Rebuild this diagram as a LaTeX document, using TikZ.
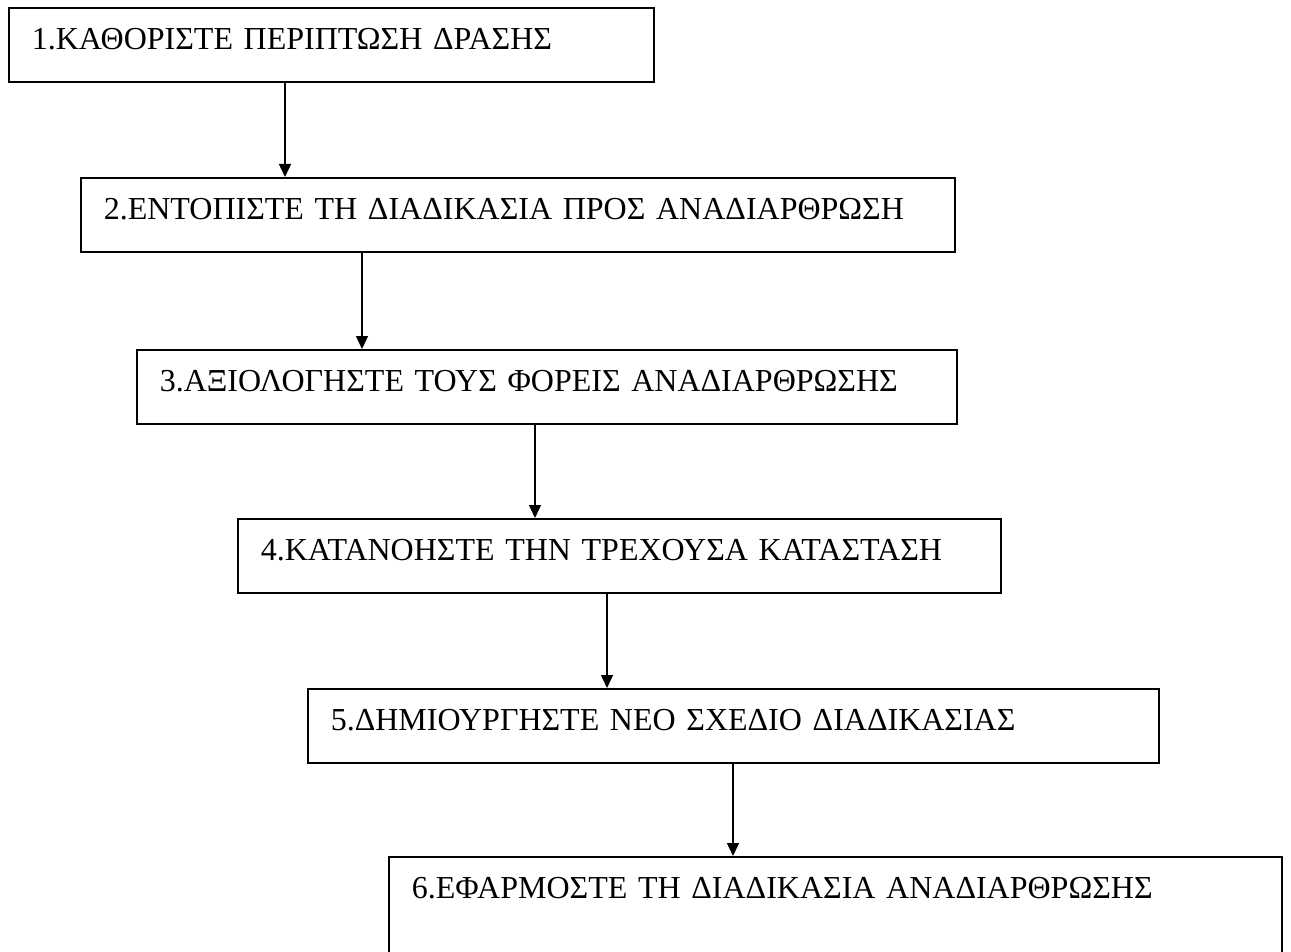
\documentclass[tikz,border=0pt]{standalone}
\usepackage{fontspec}
\setmainfont{Liberation Serif}
\usetikzlibrary{arrows.meta}
\begin{document}
\begin{tikzpicture}[x=1pt,y=-1pt,
  stepbox/.style={draw=black, line width=1.6pt, rectangle, anchor=north west,
    align=left, inner xsep=23pt, inner ysep=21pt, text height=21pt, text depth=11pt,
    font=\fontsize{32}{38}\selectfont},
  arr/.style={draw=black, line width=1.4pt, -{Triangle[length=13pt,width=12pt]}}]
\useasboundingbox (0,0) rectangle (1291,952);
\fill[white] (0,0) rectangle (1291,952);
\node[stepbox, text width=599pt] (b1) at (8,7) {1.ΚΑΘΟΡΙΣΤΕ ΠΕΡΙΠΤΩΣΗ ΔΡΑΣΗΣ};
\node[stepbox, text width=828pt] (b2) at (80,177) {2.ΕΝΤΟΠΙΣΤΕ ΤΗ ΔΙΑΔΙΚΑΣΙΑ ΠΡΟΣ ΑΝΑΔΙΑΡΘΡΩΣΗ};
\node[stepbox, text width=774pt] (b3) at (136,349) {3.ΑΞΙΟΛΟΓΗΣΤΕ ΤΟΥΣ ΦΟΡΕΙΣ ΑΝΑΔΙΑΡΘΡΩΣΗΣ};
\node[stepbox, text width=717pt] (b4) at (237,518) {4.ΚΑΤΑΝΟΗΣΤΕ ΤΗΝ ΤΡΕΧΟΥΣΑ ΚΑΤΑΣΤΑΣΗ};
\node[stepbox, text width=805pt] (b5) at (307,688) {5.ΔΗΜΙΟΥΡΓΗΣΤΕ ΝΕΟ ΣΧΕΔΙΟ ΔΙΑΔΙΚΑΣΙΑΣ};
\node[stepbox, text width=847pt, text depth=60pt] (b6) at (388,856) {6.ΕΦΑΡΜΟΣΤΕ ΤΗ ΔΙΑΔΙΚΑΣΙΑ ΑΝΑΔΙΑΡΘΡΩΣΗΣ};
\draw[arr] ([xshift=277pt]b1.south west) coordinate (t1) -- (t1 |- b2.north);
\draw[arr] ([xshift=282pt]b2.south west) coordinate (t2) -- (t2 |- b3.north);
\draw[arr] ([xshift=399pt]b3.south west) coordinate (t3) -- (t3 |- b4.north);
\draw[arr] ([xshift=370pt]b4.south west) coordinate (t4) -- (t4 |- b5.north);
\draw[arr] ([xshift=426pt]b5.south west) coordinate (t5) -- (t5 |- b6.north);
\end{tikzpicture}
\end{document}
